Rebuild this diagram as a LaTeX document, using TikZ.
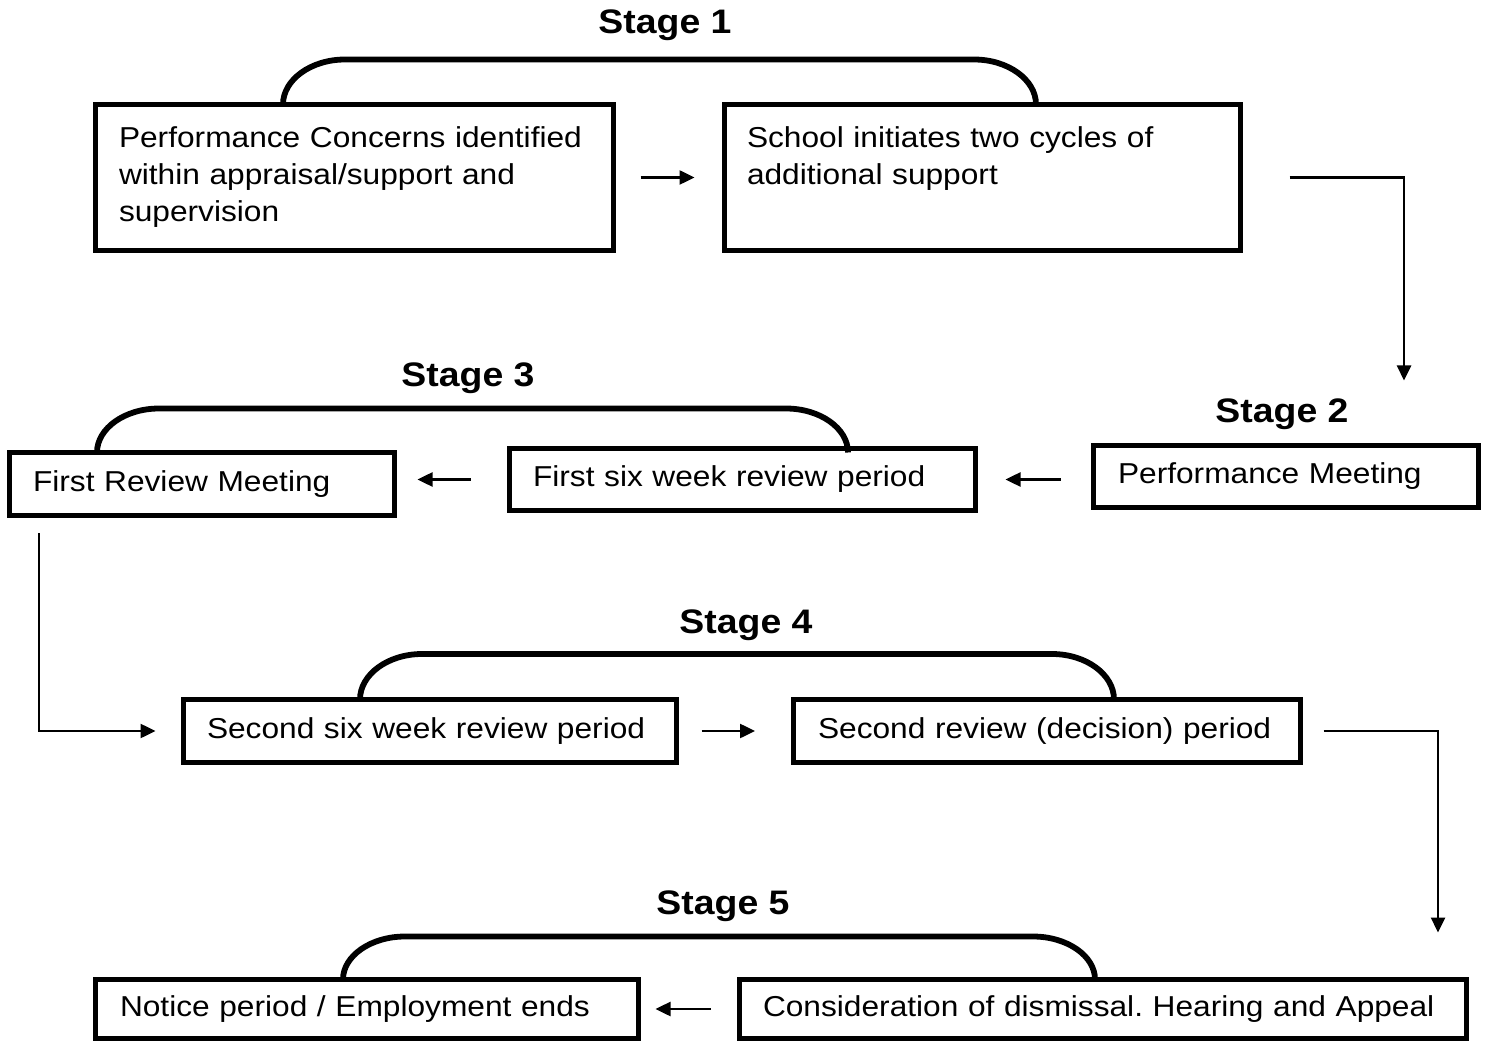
\documentclass[tikz,border=0pt]{standalone}
\usepackage{fontspec}
\setmainfont{Liberation Sans}[FakeStretch=1.1]
\usetikzlibrary{arrows.meta,calc}
\frenchspacing
\newcommand\boxfont{\fontsize{14.4pt}{18.5pt}\selectfont}
\newcommand\stagefont{\fontsize{17pt}{19pt}\selectfont\bfseries}
% bracket: #1 left foot x, #2 right foot x, #3 top y, #4 bottom y (px units)
\newcommand\stagebracket[4]{%
  \draw[bracketline] ({#1},{#4}) .. controls ({#1},{#4-0.552*(#4-#3)}) and ({#1+62-34},{#3}) .. ({#1+62},{#3})
     -- ({#2-62},{#3}) .. controls ({#2-62+34},{#3}) and ({#2},{#4-0.552*(#4-#3)}) .. ({#2},{#4});}
\tikzset{
  box/.style={draw, line width=2.5pt, rectangle, align=left, inner ysep=0pt, font=\boxfont},
  stagelabel/.style={anchor=base, inner sep=0pt, font=\stagefont},
  bracketline/.style={line width=2.9pt},
  arr/.style={line width=1.25pt, -{Triangle[length=7.5pt,width=7pt]}},
}
\begin{document}
\begin{tikzpicture}[x=0.5pt,y=-0.5pt]
\useasboundingbox (0,0) rectangle (1493,1042);

% Stage 1
\node[box, inner xsep=11.75pt, text width=235.5pt, minimum height=73pt] (A) at (354.5,177.5)
  {Performance Concerns identified\\within appraisal/support and\\supervision};
\node[box, inner xsep=11.25pt, text width=235.5pt, minimum height=73pt] (B) at (982.5,177.5)
  {School initiates two cycles of\\additional support\\\vphantom{p}};
\node[stagelabel] (s1) at (665,34) {Stage 1};
\stagebracket{283}{1036}{59.5}{104.5}

% Stage 2
\node[box, inner xsep=12.25pt, text width=168pt, minimum height=31pt] (PM) at (1286,476.5)
  {Performance Meeting};
\node[stagelabel] (s2) at (1282,423) {Stage 2};

% Stage 3
\node[box, inner xsep=11.75pt, text width=209.5pt, minimum height=31pt] (FS) at (742.5,479.5)
  {First six week review period};
\node[box, inner xsep=11.75pt, text width=169pt, minimum height=31.5pt] (FR) at (202,484)
  {First Review Meeting};
\node[stagelabel] (s3) at (468,387) {Stage 3};
\stagebracket{97}{848}{408.5}{452.5}

% Stage 4
\node[box, inner xsep=11.75pt, text width=223pt, minimum height=31.5pt] (SS) at (430,731)
  {Second six week review period};
\node[box, inner xsep=12.25pt, text width=229pt, minimum height=31.5pt] (SR) at (1047,731)
  {Second review (decision) period};
\node[stagelabel] (s4) at (746,633) {Stage 4};
\stagebracket{360}{1114}{654}{699.5}

% Stage 5
\node[box, inner xsep=12.25pt, text width=247pt, minimum height=29.5pt] (NO) at (367,1009)
  {Notice period / Employment ends};
\node[box, inner xsep=11.75pt, text width=340pt, minimum height=29.5pt] (CD) at (1103,1009)
  {Consideration of dismissal. Hearing and Appeal};
\node[stagelabel] (s5) at (723,914) {Stage 5};
\stagebracket{343}{1095}{936.5}{979.5}

% connectors
\draw[arr, shorten <=12.25pt, shorten >=13.75pt] (A.east) -- (B.west);
\draw[arr, shorten <=23.25pt, shorten >=31.25pt] (B.east) -| ([xshift=59pt]PM.north);
\draw[arr, shorten <=15.25pt, shorten >=13.75pt] (FS.east -| PM.west) -- (FS.east);
\draw[arr, shorten <=18.25pt, shorten >=10.25pt] (FS.west) -- (FS.west -| FR.east);
\draw[arr, shorten <=7.75pt, shorten >=12.75pt] ([xshift=16pt]FR.south west) |- (SS.west);
\draw[arr, shorten <=11.25pt, shorten >=18pt] (SS.east) -- (SR.west);
\draw[arr, shorten <=10.25pt, shorten >=22.25pt] (SR.east) -| ([xshift=167.5pt]CD.north);
\draw[arr, shorten <=13.25pt, shorten >=7.25pt] (CD.west) -- (NO.east);
\end{tikzpicture}
\end{document}
